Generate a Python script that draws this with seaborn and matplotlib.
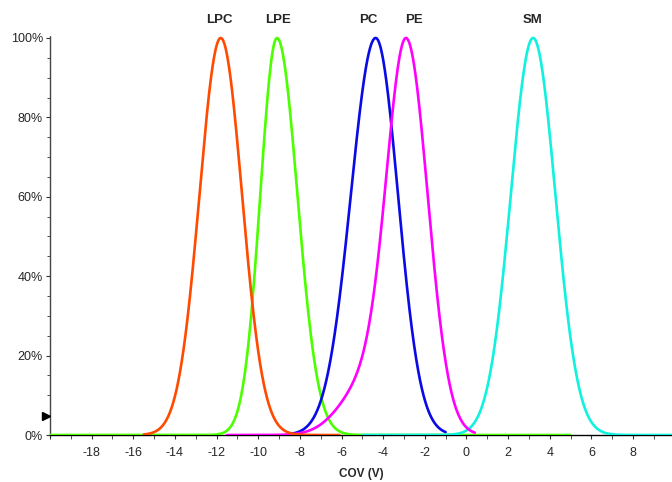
import numpy as np
import pandas as pd
import seaborn as sns
import matplotlib.pyplot as plt
from matplotlib.ticker import MultipleLocator, FuncFormatter

# peak data (CoV in volts, widths in volts)
classes = ['LPE', 'PC', 'SM', 'PE', 'LPC']
centers = [-9.1, -4.36, 3.2, -2.86, -11.8]
sigma_left = [0.80, 1.19, 1.07, 0.95, 1.02]
sigma_right = [0.98, 1.07, 1.07, 1.02, 1.02]
# PE has a shoulder on its low-CoV side
shoulder_height = [0, 0, 0, 0.13, 0]
shoulder_center = [0, 0, 0, -4.8, 0]
shoulder_sigma = [1, 1, 1, 1.25, 1]
# scan range of each trace
x_start = [-20.0, -8.5, -5.0, -11.5, -15.5]
x_end = [5.0, -1.0, 9.9, 0.4, -6.1]
colors = ['#4cff00', '#0a0ae6', '#10f2de', '#ff00ff', '#ff4a00']

label_x = [-9.06, -4.73, 3.17, -2.53, -11.86]

rows = []
for i, name in enumerate(classes):
    x = np.linspace(x_start[i], x_end[i], 600)
    s = np.where(x < centers[i], sigma_left[i], sigma_right[i])
    y = np.exp(-0.5 * ((x - centers[i]) / s) ** 2)
    y = y + shoulder_height[i] * np.exp(-0.5 * ((x - shoulder_center[i]) / shoulder_sigma[i]) ** 2)
    y = y / y.max()
    rows.append(pd.DataFrame({'cov': x, 'intensity': y, 'lipid': name}))
df = pd.concat(rows, ignore_index=True)

sns.set_style('ticks')
plt.rcParams['font.family'] = ['Liberation Sans', 'DejaVu Sans']

fig = plt.figure(figsize=(6.72, 4.82), dpi=100)
ax = fig.add_axes([50 / 672, 1 - 435 / 482, 1 - 50 / 672, 399 / 482])

for i, name in enumerate(classes):
    sns.lineplot(data=df[df['lipid'] == name], x='cov', y='intensity',
                 color=colors[i], linewidth=1.9, ax=ax, zorder=3 + i,
                 legend=False, estimator=None, sort=False)
    ax.text(label_x[i], 1.045, name, ha='center', va='center',
            fontsize=9.5, fontweight='bold')

ax.set_xlim(-20, 9.87)
ax.set_ylim(0, 1.005)

ax.xaxis.set_major_locator(MultipleLocator(2))
ax.xaxis.set_minor_locator(MultipleLocator(1))
ax.yaxis.set_major_locator(MultipleLocator(0.2))
ax.yaxis.set_minor_locator(MultipleLocator(0.05))
ax.xaxis.set_major_formatter(FuncFormatter(lambda v, p: '' if v <= -20 else '%d' % v))
ax.yaxis.set_major_formatter(FuncFormatter(lambda v, p: '%d%%' % round(v * 100)))

ax.tick_params(axis='both', which='both', direction='out', labelsize=9, color='#333333')
ax.tick_params(axis='x', which='both', length=3, pad=6)
ax.tick_params(axis='y', which='major', length=3, pad=2)
ax.tick_params(axis='y', which='minor', length=2)

ax.spines['top'].set_visible(False)
ax.spines['right'].set_visible(False)
ax.spines['left'].set_color('#444444')
ax.spines['left'].set_linestyle((0, (1, 1)))
ax.spines['left'].set_linewidth(1)
ax.spines['bottom'].set_color('black')
ax.spines['bottom'].set_linewidth(1)

# threshold marker on the y axis
ax.plot([-20.17], [0.048], marker='>', color='black', markersize=6, clip_on=False, zorder=10)

ax.set_xlabel('COV (V)', fontsize=8.5, fontweight='bold', labelpad=6)
ax.set_ylabel('')

fig.savefig('out.png', dpi=100)
